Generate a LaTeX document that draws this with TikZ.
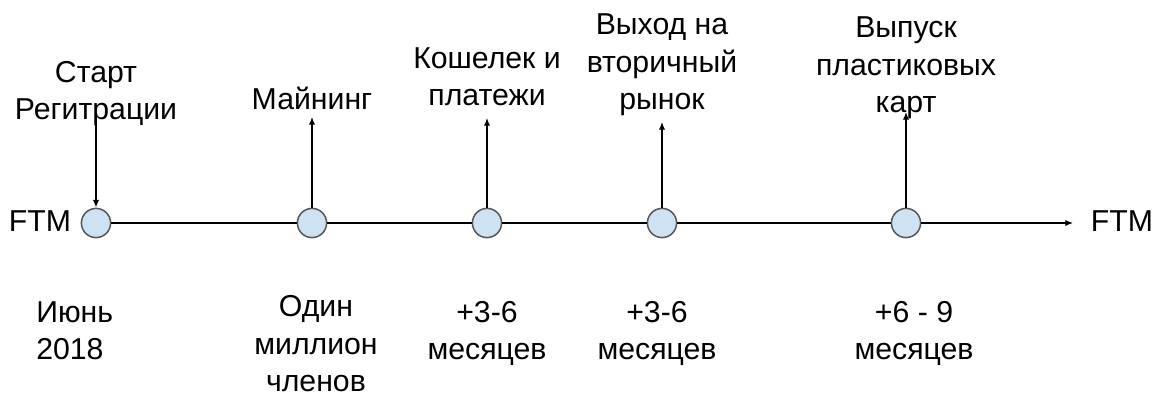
\documentclass[tikz,border=0pt]{standalone}
\usepackage{fontspec}
\setmainfont{Liberation Sans}
\usetikzlibrary{arrows.meta}
\definecolor{dotfill}{HTML}{CFE2F3}
\definecolor{dotline}{HTML}{595959}
\tikzset{
	milestone/.style={circle, draw=dotline, fill=dotfill, line width=1.1pt, minimum size=0.73cm, inner sep=0pt},
	lbl/.style={align=center, anchor=base, inner sep=0pt, font=\fontsize{21.5}{27}\selectfont},
	tip/.style={-{Latex[length=5.5pt,width=4.5pt]}, line width=0.9pt}
}

\begin{document}
\begin{tikzpicture}[x=0.025cm, y=-0.025cm]
	\useasboundingbox (0,0) rectangle (1161,398);
	% milestones on the line
	\foreach \i/\x in {1/96,2/312,3/487,4/662,5/906}
	{
		\node[milestone] (m\i) at (\x,223) {};
	}
	\node[lbl] (ftmL) at (40,232) {FTM};
	\node[lbl] (ftmR) at (1122,232) {FTM};
	\coordinate (lineend) at (1073,223);
	\draw[line width=0.9pt] (m1) -- (m2);
	\draw[line width=0.9pt] (m2) -- (m3);
	\draw[line width=0.9pt] (m3) -- (m4);
	\draw[line width=0.9pt] (m4) -- (m5);
	\draw[tip] (m5) -- (lineend);
	% labels above
	\node[lbl] (start) at (96,120) {Старт\\Регитрации};
	\node[lbl] (mining) at (312,110) {Майнинг};
	\node[lbl] (wallet) at (487,106) {Кошелек и\\платежи};
	\node[lbl] (market) at (662,110) {Выход на\\вторичный\\рынок};
	\node[lbl] (cards) at (906,113) {Выпуск\\пластиковых\\карт};
	\coordinate (startfrom) at (96,114);
	\coordinate (miningto) at (312,117);
	\coordinate (walletto) at (487,118);
	\coordinate (marketto) at (662,122);
	\coordinate (cardsto) at (906,112);
	\draw[tip] (startfrom) -- (m1);
	\draw[tip] (m2) -- (miningto);
	\draw[tip] (m3) -- (walletto);
	\draw[tip] (m4) -- (marketto);
	\draw[tip] (m5) -- (cardsto);
	% labels below
	\node[lbl, align=left, anchor=base west] (june) at (36,360) {Июнь\\2018};
	\node[lbl] (members) at (316,392) {Один\\миллион\\членов};
	\node[lbl] (plus1) at (487,360) {+3-6\\месяцев};
	\node[lbl] (plus2) at (657,360) {+3-6\\месяцев};
	\node[lbl] (plus3) at (914,360) {+6 - 9\\месяцев};
\end{tikzpicture}
\end{document}
